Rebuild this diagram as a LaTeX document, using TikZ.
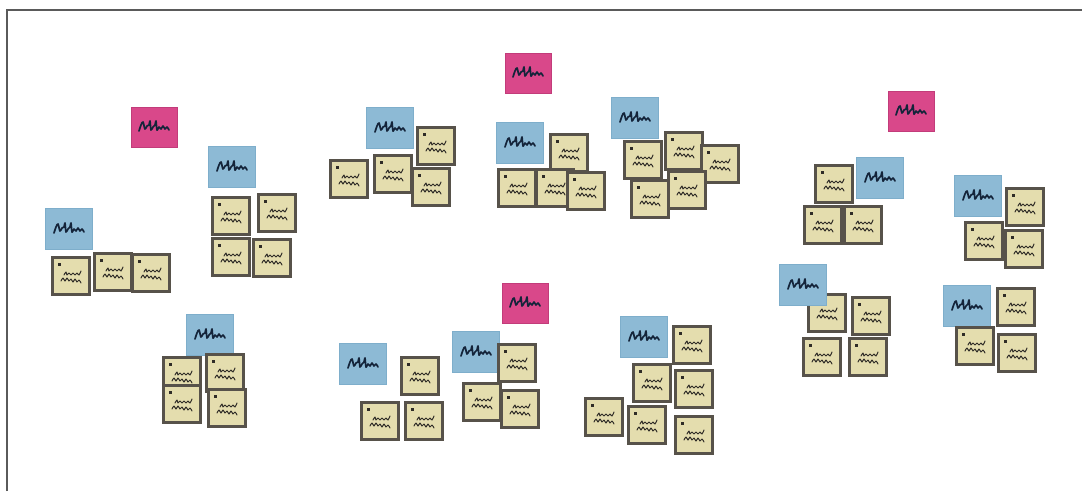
\documentclass[tikz,border=0pt]{standalone}
\begin{document}
\begin{tikzpicture}[x=1pt,y=-1pt]
\definecolor{yfill}{HTML}{E4DDAE}
\definecolor{ybord}{HTML}{57524A}
\definecolor{bfill}{HTML}{8DBAD5}
\definecolor{bbord}{HTML}{7EAECB}
\definecolor{pfill}{HTML}{D9488A}
\definecolor{pbord}{HTML}{C23C7A}
\definecolor{ink}{HTML}{14243A}
\definecolor{pen}{HTML}{2F2C27}
\definecolor{frame}{HTML}{5A5A5A}
\tikzset{
  hscrib/.style={draw=ink,line width=1.7pt,line cap=round,line join=round},
  yscrib/.style={draw=pen,line width=1pt,line cap=round,line join=round},
  hdrmark/.style={path picture={
    \draw[hscrib,shift={(path picture bounding box.center)}]
      plot[smooth,tension=.5] coordinates {(-15,4) (-13,-2) (-11,-5) (-9,2) (-7,-1) (-5,-2) (-4,-6) (-3,3) (-1,0) (1,-2) (2,-6) (3,3) (5,0) (7,2) (9,-1) (11,2) (13,0) (15,3)};}},
  ymark/.style={path picture={
    \begin{scope}[shift={(path picture bounding box.center)}]
      \fill[pen] (-13.5,-13.5) rectangle (-10.5,-10.5);
      \draw[yscrib] plot[smooth,tension=.6] coordinates {(-7,-1) (-5,-4) (-4,-1) (-2,-3) (0,-1) (2,-3) (4,-1) (6,-3) (8,-1) (10,-5)};
      \draw[yscrib] plot[smooth,tension=.6] coordinates {(-10,5) (-8,2) (-6,5) (-4,2) (-2,5) (0,3) (2,6) (4,3) (6,6) (8,4) (10,7)};
    \end{scope}}},
  ynote/.style={draw=ybord,line width=2.6pt,fill=yfill,minimum width=37pt,minimum height=37pt,inner sep=0pt,ymark},
  bnote/.style={draw=bbord,line width=0.6pt,fill=bfill,minimum width=47pt,minimum height=41pt,inner sep=0pt,hdrmark},
  pnote/.style={draw=pbord,line width=0.6pt,fill=pfill,minimum width=46pt,minimum height=40pt,inner sep=0pt,hdrmark},
}
\useasboundingbox (0,0) rectangle (1082,491);
\coordinate (fa) at (7,491);
\coordinate (fb) at (7,10);
\coordinate (fc) at (1082,10);
\draw[frame,line width=1.8pt] (fa) -- (fb) -- (fc);

% pink headers
\node[pnote] (p1) at (154,127) {};
\node[pnote] (p2) at (528,73) {};
\node[pnote] (p3) at (911,111) {};
\node[pnote] (p4) at (525,303) {};

% cluster 1
\node[bnote] (b1) at (69,229) {};
\node[ynote] (y11) at (71,276) {};
\node[ynote] (y12) at (113,272) {};
\node[ynote] (y13) at (151,273) {};

% cluster 2
\node[bnote] (b2) at (232,167) {};
\node[ynote] (y21) at (231,216) {};
\node[ynote] (y22) at (277,213) {};
\node[ynote] (y23) at (231,257) {};
\node[ynote] (y24) at (272,258) {};

% cluster 3
\node[bnote] (b3) at (390,128) {};
\node[ynote] (y31) at (436,146) {};
\node[ynote] (y32) at (349,179) {};
\node[ynote] (y33) at (393,174) {};
\node[ynote] (y34) at (431,187) {};

% cluster 4
\node[bnote] (b4) at (520,143) {};
\node[ynote] (y41) at (569,153) {};
\node[ynote] (y42) at (517,188) {};
\node[ynote] (y43) at (555,188) {};
\node[ynote] (y44) at (586,191) {};

% cluster 5
\node[bnote] (b5) at (635,118) {};
\node[ynote] (y51) at (643,160) {};
\node[ynote] (y52) at (684,151) {};
\node[ynote] (y53) at (720,164) {};
\node[ynote] (y54) at (650,199) {};
\node[ynote] (y55) at (687,190) {};

% cluster 6
\node[bnote] (b6) at (880,178) {};
\node[ynote] (y61) at (834,184) {};
\node[ynote] (y62) at (823,225) {};
\node[ynote] (y63) at (863,225) {};

% cluster 7
\node[bnote] (b7) at (978,196) {};
\node[ynote] (y71) at (1025,207) {};
\node[ynote] (y72) at (984,241) {};
\node[ynote] (y73) at (1024,249) {};

% cluster 8
\node[bnote] (b8) at (210,335) {};
\node[ynote] (y81) at (182,376) {};
\node[ynote] (y82) at (225,373) {};
\node[ynote] (y83) at (182,404) {};
\node[ynote] (y84) at (227,408) {};

% cluster 9
\node[bnote] (b9) at (363,364) {};
\node[ynote] (y91) at (420,376) {};
\node[ynote] (y92) at (380,421) {};
\node[ynote] (y93) at (424,421) {};

% cluster 10
\node[bnote] (b10) at (476,352) {};
\node[ynote] (y101) at (517,363) {};
\node[ynote] (y102) at (482,402) {};
\node[ynote] (y103) at (520,409) {};

% cluster 11
\node[bnote] (b11) at (644,337) {};
\node[ynote] (y111) at (692,345) {};
\node[ynote] (y112) at (652,383) {};
\node[ynote] (y113) at (694,389) {};
\node[ynote] (y114) at (604,417) {};
\node[ynote] (y115) at (647,425) {};
\node[ynote] (y116) at (694,435) {};

% cluster 12
\node[ynote] (y121) at (827,313) {};
\node[ynote] (y122) at (871,316) {};
\node[ynote] (y123) at (822,357) {};
\node[ynote] (y124) at (868,357) {};
\node[bnote] (b12) at (803,285) {};

% cluster 13
\node[bnote] (b13) at (967,306) {};
\node[ynote] (y131) at (1016,307) {};
\node[ynote] (y132) at (975,346) {};
\node[ynote] (y133) at (1017,353) {};
\end{tikzpicture}
\end{document}
